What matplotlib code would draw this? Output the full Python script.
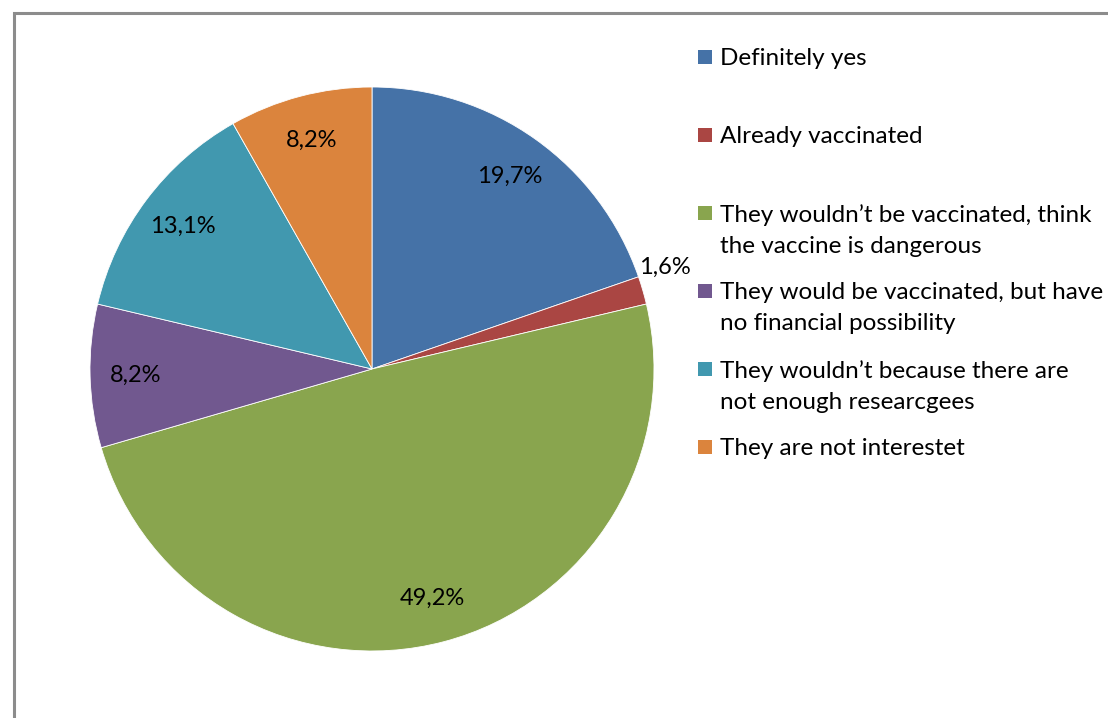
import matplotlib
matplotlib.use("Agg")
import numpy as np
import matplotlib.pyplot as plt
from matplotlib.patches import Rectangle

# survey answers (percent)
labels = [
    "Definitely yes",
    "Already vaccinated",
    "They wouldn\u2019t be vaccinated, think\nthe vaccine is dangerous",
    "They would be vaccinated, but have\nno financial possibility",
    "They wouldn\u2019t because there are\nnot enough researcgees",
    "They are not interestet",
]
values = [19.7, 1.6, 49.2, 8.2, 13.1, 8.2]
pct_labels = ["19,7%", "1,6%", "49,2%", "8,2%", "13,1%", "8,2%"]
colors = ["#4572A7", "#AA4643", "#89A54E", "#71588F", "#4198AF", "#DB843D"]

plt.rcParams["font.family"] = ["Lato", "DejaVu Sans"]

W, H = 1108, 718
fig = plt.figure(figsize=(W / 100, H / 100), dpi=100)

# pie axes: centre (372, 369) px, radius 282 px
cx, cy, r = 372, 369, 282
ax = fig.add_axes([(cx - r) / W, (H - cy - r) / H, 2 * r / W, 2 * r / H])
wedges, _ = ax.pie(values, colors=colors, startangle=90, counterclock=False,
                   radius=1, wedgeprops=dict(edgecolor="white", linewidth=0.6))
ax.set_xlim(-1, 1)
ax.set_ylim(-1, 1)
ax.set_aspect("equal")
ax.axis("off")

# percentage labels (small slice gets its label outside)
for i, (w, txt) in enumerate(zip(wedges, pct_labels)):
    ang = np.deg2rad((w.theta1 + w.theta2) / 2)
    if values[i] < 3:
        ang += np.deg2rad(3)
        d = 1.10
    else:
        d = 0.84
    ax.text(d * np.cos(ang), d * np.sin(ang), txt, ha="center", va="center",
            fontsize=17, color="black", clip_on=False)

# legend, one slot every 78 px
for i, (lab, col) in enumerate(zip(labels, colors)):
    y = 57 + 78 * i
    fig.patches.append(Rectangle((698 / W, 1 - (y + 7) / H), 14 / W, 14 / H,
                                 transform=fig.transFigure, facecolor=col,
                                 edgecolor="none"))
    fig.text(720 / W, 1 - (y - 9) / H, lab, ha="left", va="top",
             fontsize=17.5, linespacing=1.6)

# chart frame running off the right and bottom
fig.patches.append(Rectangle((14 / W, -0.1), 1.2, 1.1 - 13 / H,
                             transform=fig.transFigure, facecolor="none",
                             edgecolor="#8c8c8c", linewidth=2.2))

fig.savefig("out.png", dpi=100)
